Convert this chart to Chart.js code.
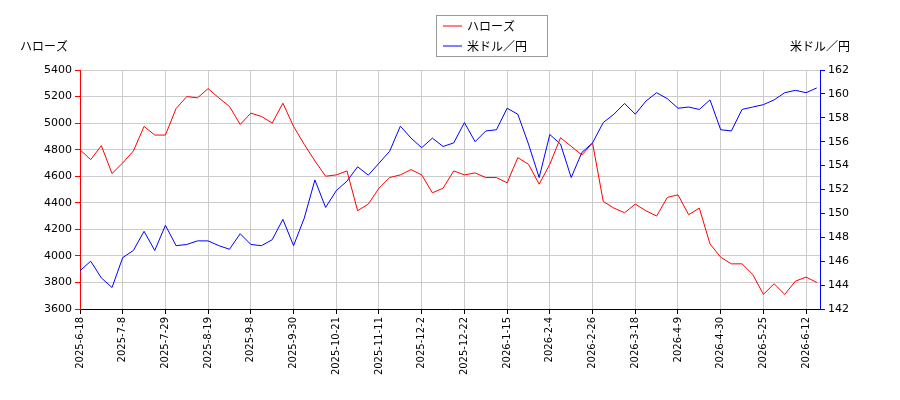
<!DOCTYPE html>
<html>
<head>
<meta charset="utf-8">
<script src="https://cdn.jsdelivr.net/npm/chart.js@4"></script>
<style>
  body { margin: 0; background: #fff; }
  #wrap { width: 900px; height: 400px; }
</style>
</head>
<body>
<div id="wrap"><canvas id="chart"></canvas></div>
<script>
"use strict";

const tickLabels = ['2025-6-18','2025-7-8','2025-7-29','2025-8-19','2025-9-8','2025-9-30','2025-10-21','2025-11-11',
  '2025-12-2','2025-12-22','2026-1-15','2026-2-4','2026-2-26','2026-3-18','2026-4-9','2026-4-30','2026-5-25','2026-6-12'];

// one point every quarter of a tick interval
const harosu = [4800,4725,4830,4620,4700,4790,4975,4910,4910,5110,5200,5190,5260,5190,5125,4990,5075,5050,5000,5150,
  4975,4840,4715,4600,4610,4640,4340,4390,4510,4590,4610,4650,4610,4475,4510,4640,4610,4625,4590,4590,
  4550,4740,4690,4540,4690,4890,4825,4760,4850,4410,4360,4325,4390,4340,4300,4440,4460,4310,4360,4090,
  3990,3940,3940,3860,3710,3790,3710,3810,3840,3800];
const usdjpy = [145.2,146.0,144.6,143.8,146.3,146.9,148.5,146.9,149.0,147.3,147.4,147.7,147.7,147.3,147.0,148.3,147.4,147.3,147.8,149.5,
  147.3,149.6,152.8,150.5,151.9,152.7,153.9,153.2,154.2,155.2,157.3,156.3,155.5,156.3,155.6,155.9,157.6,156.0,156.9,157.0,
  158.8,158.3,155.8,153.0,156.6,155.8,153.0,155.1,155.9,157.6,158.3,159.2,158.3,159.4,160.1,159.6,158.8,158.9,158.7,159.5,
  157.0,156.9,158.7,158.9,159.1,159.5,160.1,160.3,160.1,160.5];

const toXY = arr => arr.map((v, i) => ({x: i, y: v}));

const overlay = {
  id: 'overlay',
  afterDraw(chart) {
    const c = chart.ctx;
    c.save();
    c.font = '12px "Noto Sans CJK JP", sans-serif';
    c.fillStyle = '#000';
    c.textBaseline = 'middle';
    c.textAlign = 'left';
    c.fillText('ハローズ', 20, 46);
    c.textAlign = 'right';
    c.fillText('米ドル／円', 850, 46);
    // legend box
    c.fillStyle = '#fff';
    c.strokeStyle = '#999';
    c.lineWidth = 1;
    c.fillRect(436.5, 15.5, 111, 41);
    c.strokeRect(436.5, 15.5, 111, 41);
    const items = [['ハローズ', 'red', 26], ['米ドル／円', 'blue', 46]];
    c.textAlign = 'left';
    items.forEach(([t, col, y]) => {
      c.strokeStyle = col;
      c.beginPath(); c.moveTo(443, y); c.lineTo(462, y); c.stroke();
      c.fillStyle = '#000';
      c.fillText(t, 467, y);
    });
    c.restore();
  }
};

new Chart('chart', {
  type: 'line',
  data: {
    datasets: [
      {label: 'ハローズ', data: toXY(harosu), borderColor: 'red', borderWidth: 1, pointRadius: 0, yAxisID: 'y', tension: 0},
      {label: '米ドル／円', data: toXY(usdjpy), borderColor: 'blue', borderWidth: 1, pointRadius: 0, yAxisID: 'y1', tension: 0}
    ]
  },
  options: {
    responsive: true,
    maintainAspectRatio: false,
    animation: false,
    layout: {padding: {top: 70, left: 0, right: 0, bottom: 0}},
    plugins: {legend: {display: false}, tooltip: {enabled: false}},
    scales: {
      x: {
        type: 'linear', min: 0, max: 69.3,
        afterBuildTicks: s => { s.ticks = tickLabels.map((_, i) => ({value: i * 4})); },
        afterFit: s => { s.height = 91; },
        ticks: {
          autoSkip: false, maxRotation: 90, minRotation: 90,
          callback: (v) => tickLabels[v / 4],
          font: {family: 'DejaVu Sans', size: 10}, color: '#000'
        },
        grid: {color: '#ccc', tickColor: '#000', tickLength: 5},
        border: {color: '#000'}
      },
      y: {
        position: 'left', min: 3600, max: 5400,
        afterFit: s => { s.width = 80; },
        ticks: {stepSize: 200, callback: v => String(v), font: {family: 'DejaVu Sans', size: 11}, color: '#000'},
        grid: {color: '#ccc', tickColor: 'red', tickLength: 5},
        border: {color: 'red'}
      },
      y1: {
        position: 'right', min: 142, max: 162,
        afterFit: s => { s.width = 80; },
        ticks: {stepSize: 2, callback: v => String(v), font: {family: 'DejaVu Sans', size: 11}, color: '#000'},
        grid: {drawOnChartArea: false, tickColor: 'blue', tickLength: 5},
        border: {color: 'blue'}
      }
    }
  },
  plugins: [overlay]
});
</script>
</body>
</html>
